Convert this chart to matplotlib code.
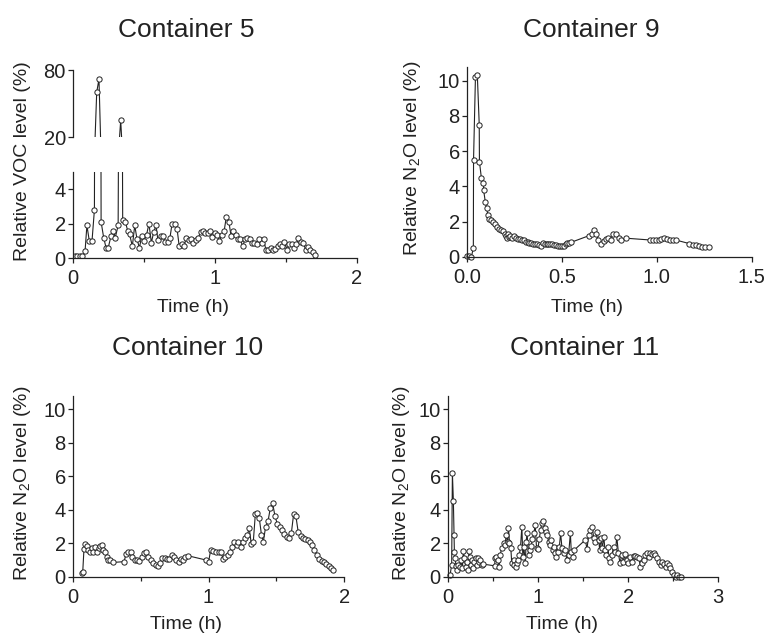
import matplotlib
matplotlib.use("Agg")
import matplotlib.pyplot as plt
from matplotlib.ticker import FixedLocator

plt.rcParams['font.family'] = ['Liberation Sans', 'DejaVu Sans']
plt.rcParams['mathtext.default'] = 'regular'

# ---------------- data ----------------
titles = ["Container 5", "Container 9", "Container 10", "Container 11"]
ylabel_voc = "Relative VOC level (%)"
ylabel_n2o = "Relative N$_2$O level (%)"
xlabel = "Time (h)"

c5_time = [0.016, 0.033, 0.05, 0.068, 0.087, 0.10, 0.117, 0.136, 0.153, 0.169,
           0.185, 0.20, 0.218, 0.235, 0.25, 0.27, 0.286, 0.30, 0.32, 0.338,
           0.352, 0.371, 0.387, 0.40, 0.42, 0.437, 0.453, 0.47, 0.486, 0.50,
           0.52, 0.537, 0.554, 0.57, 0.587, 0.60, 0.62, 0.636, 0.65, 0.67,
           0.685, 0.70, 0.718, 0.735, 0.75, 0.768, 0.784, 0.80, 0.82, 0.836,
           0.85, 0.87, 0.885, 0.90, 0.918, 0.934, 0.95, 0.967, 0.98, 1.0,
           1.016, 1.033, 1.05, 1.066, 1.082, 1.10, 1.115, 1.13, 1.148, 1.164,
           1.18, 1.197, 1.214, 1.23, 1.246, 1.263, 1.28, 1.296, 1.31, 1.33,
           1.345, 1.36, 1.378, 1.394, 1.41, 1.427, 1.444, 1.46, 1.476, 1.49,
           1.51, 1.526, 1.542, 1.56, 1.575, 1.59, 1.608, 1.624, 1.64, 1.657,
           1.674, 1.69, 1.706]
c5_value = [0.15, 0.15, 0.15, 0.15, 0.4, 1.9, 1.0, 1.0, 2.8, 60,
            72, 2.1, 1.2, 0.6, 0.6, 1.3, 1.6, 1.2, 1.9, 35,
            2.2, 2.1, 1.6, 1.4, 0.7, 1.9, 1.1, 0.6, 1.3, 1.0,
            1.35, 2.0, 0.9, 1.5, 1.9, 1.05, 1.3, 1.3, 0.95, 0.95,
            1.2, 2.0, 2.0, 1.7, 0.7, 0.8, 0.7, 1.2, 1.05, 1.1,
            0.9, 1.05, 1.2, 1.5, 1.6, 1.45, 1.45, 1.55, 1.25, 1.45,
            1.35, 1.0, 1.35, 1.55, 2.4, 2.1, 1.3, 1.6, 1.35, 1.1,
            1.1, 0.7, 1.1, 1.2, 1.1, 0.9, 0.9, 0.8, 1.1, 0.9,
            1.1, 0.5, 0.5, 0.6, 0.5, 0.55, 0.7, 0.8, 0.7, 0.95,
            0.5, 0.8, 0.8, 0.6, 0.8, 1.15, 0.95, 0.9, 0.5, 0.65,
            0.5, 0.35, 0.2]

c9_time = [0.0035, 0.014, 0.025, 0.035, 0.036, 0.046, 0.056, 0.066, 0.067, 0.077,
           0.088, 0.089, 0.098, 0.105, 0.112, 0.118, 0.128, 0.139, 0.149, 0.16,
           0.17, 0.18, 0.19, 0.20, 0.205, 0.21, 0.215, 0.22, 0.23, 0.24,
           0.25, 0.26, 0.27, 0.28, 0.29, 0.30, 0.31, 0.32, 0.33, 0.34,
           0.35, 0.36, 0.37, 0.38, 0.39, 0.40, 0.41, 0.42, 0.43, 0.44,
           0.45, 0.46, 0.47, 0.48, 0.49, 0.50, 0.51, 0.52, 0.53, 0.54,
           0.55, 0.645, 0.66, 0.67, 0.68, 0.693, 0.705, 0.72, 0.733, 0.745,
           0.758, 0.772, 0.786, 0.80, 0.814, 0.84, 0.965, 0.98, 0.995, 1.01,
           1.025, 1.04, 1.055, 1.07, 1.085, 1.10, 1.17, 1.19, 1.205, 1.22,
           1.24, 1.255, 1.275]
c9_value = [0.05, 0.05, 0.0, 0.5, 5.5, 10.2, 10.3, 7.5, 5.4, 4.5,
            4.2, 3.8, 3.1, 2.75, 2.35, 2.15, 2.1, 1.95, 1.85, 1.7,
            1.6, 1.5, 1.45, 1.3, 1.15, 1.05, 1.3, 1.1, 1.15, 1.05,
            1.15, 1.05, 1.0, 1.0, 0.95, 0.95, 0.85, 0.85, 0.8, 0.8,
            0.75, 0.7, 0.7, 0.65, 0.62, 0.8, 0.75, 0.7, 0.7, 0.7,
            0.7, 0.68, 0.65, 0.6, 0.58, 0.6, 0.62, 0.7, 0.8, 0.8,
            0.82, 1.2, 1.3, 1.5, 1.3, 0.95, 0.75, 0.9, 1.0, 1.05,
            0.95, 1.3, 1.3, 1.05, 0.95, 1.05, 0.95, 0.95, 0.95, 0.95,
            1.0, 1.05, 1.0, 0.95, 0.95, 0.95, 0.75, 0.65, 0.65, 0.6,
            0.55, 0.55, 0.55]

c10_time = [0.066, 0.074, 0.083, 0.093, 0.103, 0.115, 0.128, 0.14, 0.152, 0.164,
            0.177, 0.19, 0.2, 0.213, 0.226, 0.238, 0.25, 0.263, 0.275, 0.294,
            0.378, 0.393, 0.41, 0.427, 0.44, 0.46, 0.476, 0.49, 0.508, 0.525,
            0.54, 0.557, 0.574, 0.59, 0.61, 0.626, 0.643, 0.66, 0.677, 0.694,
            0.71, 0.729, 0.746, 0.763, 0.78, 0.8, 0.815, 0.83, 0.85, 0.98,
            1.0, 1.016, 1.036, 1.055, 1.075, 1.09, 1.11, 1.124, 1.14, 1.158,
            1.175, 1.19, 1.207, 1.22, 1.237, 1.254, 1.27, 1.286, 1.3, 1.315,
            1.33, 1.345, 1.36, 1.374, 1.39, 1.404, 1.42, 1.438, 1.455, 1.472,
            1.49, 1.507, 1.524, 1.54, 1.558, 1.575, 1.59, 1.61, 1.627, 1.644,
            1.66, 1.68, 1.696, 1.713, 1.73, 1.747, 1.764, 1.78, 1.8, 1.816,
            1.833, 1.85, 1.867, 1.885, 1.9, 1.914]
c10_value = [0.2, 0.3, 1.65, 1.95, 1.85, 1.6, 1.45, 1.7, 1.5, 1.8,
             1.5, 1.7, 1.85, 1.9, 1.6, 1.45, 1.2, 1.0, 1.0, 0.85,
             0.9, 1.35, 1.45, 1.5, 1.2, 1.0, 1.0, 0.95, 1.2, 1.4,
             1.45, 1.15, 1.0, 0.8, 0.7, 0.65, 0.8, 1.1, 1.1, 1.05,
             1.05, 1.3, 1.2, 1.0, 0.9, 1.05, 1.0, 1.15, 1.25, 1.0,
             0.85, 1.6, 1.55, 1.5, 1.5, 1.45, 1.05, 1.2, 1.3, 1.5,
             1.75, 2.05, 1.9, 2.05, 1.75, 2.05, 2.3, 2.5, 2.9, 1.95,
             2.1, 3.75, 3.8, 3.5, 2.5, 2.1, 2.95, 3.3, 4.1, 4.4,
             3.6, 3.15, 3.0, 2.8, 2.55, 2.35, 2.3, 2.6, 3.75, 3.6,
             2.7, 2.45, 2.3, 2.25, 2.2, 2.05, 1.9, 1.6, 1.3, 1.05,
             0.95, 0.85, 0.75, 0.65, 0.5, 0.4]

c11_time = [0.026, 0.044, 0.052, 0.063, 0.07, 0.074, 0.081, 0.093, 0.107, 0.118,
            0.137, 0.148, 0.163, 0.174, 0.185, 0.2, 0.21, 0.222, 0.237, 0.248,
            0.26, 0.274, 0.285, 0.296, 0.31, 0.322, 0.333, 0.348, 0.36, 0.378,
            0.396, 0.52, 0.526, 0.537, 0.556, 0.57, 0.58, 0.6, 0.62, 0.637,
            0.648, 0.663, 0.674, 0.685, 0.7, 0.71, 0.73, 0.74, 0.756, 0.767,
            0.778, 0.793, 0.807, 0.822, 0.833, 0.844, 0.86, 0.87, 0.88, 0.896,
            0.91, 0.926, 0.94, 0.956, 0.97, 0.985, 1.0, 1.015, 1.03, 1.044,
            1.06, 1.074, 1.09, 1.104, 1.118, 1.13, 1.148, 1.163, 1.178, 1.19,
            1.2, 1.22, 1.237, 1.252, 1.267, 1.285, 1.3, 1.322, 1.34, 1.36,
            1.37, 1.39, 1.404, 1.526, 1.544, 1.563, 1.58, 1.6, 1.62, 1.637,
            1.655, 1.674, 1.685, 1.7, 1.715, 1.73, 1.744, 1.76, 1.774, 1.79,
            1.8, 1.82, 1.84, 1.86, 1.874, 1.893, 1.91, 1.93, 1.948, 1.967,
            1.985, 2.0, 2.026, 2.044, 2.063, 2.08, 2.1, 2.12, 2.137, 2.156,
            2.174, 2.19, 2.21, 2.23, 2.248, 2.267, 2.285, 2.3, 2.322, 2.34,
            2.36, 2.378, 2.396, 2.415, 2.43, 2.45, 2.47, 2.49, 2.507, 2.526,
            2.544, 2.56, 2.59]
c11_value = [0.1, 0.7, 6.2, 4.5, 2.5, 1.5, 1.1, 0.65, 0.4, 0.7,
             0.6, 1.0, 0.5, 1.55, 1.1, 0.6, 0.9, 0.4, 1.55, 1.2,
             0.7, 1.0, 0.5, 0.9, 1.1, 0.7, 1.1, 0.9, 1.0, 0.7,
             0.75, 0.65, 1.1, 1.2, 1.0, 0.6, 1.3, 1.7, 2.0, 1.9,
             2.5, 2.1, 2.9, 2.0, 1.7, 0.8, 1.0, 0.7, 0.55, 0.8,
             1.0, 1.3, 1.75, 3.0, 1.2, 1.8, 0.8, 2.1, 2.6, 1.3,
             1.6, 1.85, 2.25, 2.6, 3.1, 1.7, 1.65, 2.25, 2.8, 3.2,
             3.3, 2.9, 2.7, 2.5, 2.1, 1.9, 2.2, 1.6, 1.8, 1.4,
             1.2, 1.5, 1.75, 2.6, 1.7, 1.4, 1.6, 1.0, 1.3, 2.6,
             1.5, 1.2, 1.6, 2.2, 1.65, 2.5, 2.8, 3.0, 2.3, 2.1,
             2.7, 2.2, 1.6, 2.3, 1.7, 2.4, 1.6, 1.3, 1.8, 1.1,
             0.9, 1.3, 1.8, 1.5, 2.4, 1.4, 0.8, 1.3, 0.9, 1.35,
             1.0, 0.8, 1.2, 0.9, 1.25, 1.25, 1.2, 1.1, 0.6, 0.8,
             1.0, 1.3, 1.4, 1.2, 1.4, 1.35, 1.4, 1.3, 1.1, 0.9,
             0.7, 0.9, 0.75, 0.55, 0.8, 0.7, 0.5, 0.3, 0.1, 0.0,
             0.1, 0.0, 0.0]

for a, b in [(c5_time, c5_value), (c9_time, c9_value),
             (c10_time, c10_value), (c11_time, c11_value)]:
    assert len(a) == len(b), (len(a), len(b))

# ---------------- styling ----------------
W, H = 767, 633
INK = '#222222'
fig = plt.figure(figsize=(W / 100, H / 100), dpi=100)


def px_axes(left, top, right, bottom):
    return fig.add_axes([left / W, 1 - bottom / H, (right - left) / W, (bottom - top) / H])


def style(ax, xmajor=None, xminor=None, yticks=None, show_x=True):
    for s in ('top', 'right'):
        ax.spines[s].set_visible(False)
    for s in ('left', 'bottom'):
        ax.spines[s].set_linewidth(0.9)
        ax.spines[s].set_color(INK)
    ax.tick_params(axis='both', which='both', direction='out', color=INK,
                   labelcolor=INK, labelsize=14.5, width=0.9)
    ax.tick_params(axis='both', which='major', length=3.5)
    ax.tick_params(axis='both', which='minor', length=3.0)
    ax.tick_params(axis='y', pad=1.5)
    ax.tick_params(axis='x', pad=4.5)
    if yticks is not None:
        ax.yaxis.set_major_locator(FixedLocator(yticks))
    if show_x:
        ax.xaxis.set_major_locator(FixedLocator(xmajor))
        if xminor:
            ax.xaxis.set_minor_locator(FixedLocator(xminor))
    else:
        ax.spines['bottom'].set_visible(False)
        ax.tick_params(axis='x', which='both', bottom=False, labelbottom=False)
    ax.patch.set_alpha(0)


def draw(ax, t, v, clip=True):
    ax.plot(t, v, '-o', color=INK, lw=0.8, ms=3.8, mfc='white', mec=INK,
            mew=0.7, clip_on=clip)


# Container 5 (broken y axis)
ax5l = px_axes(72.7, 171.7, 356.7, 258.3)
ax5u = px_axes(72.7, 70.0, 356.7, 137.3)
for ax in (ax5l, ax5u):
    draw(ax, c5_time, c5_value, clip=True)
    ax.set_xlim(0, 2)
ax5l.set_ylim(0, 5)
ax5u.set_ylim(20, 80)
style(ax5l, xmajor=[0, 1, 2], xminor=[0.5, 1.5], yticks=[0, 2, 4])
ax5l.set_xticklabels(['0', '1', '2'])
style(ax5u, yticks=[20, 80], show_x=False)

# Container 9
ax9 = px_axes(466.7, 66.7, 751.7, 256.7)
draw(ax9, c9_time, c9_value, clip=False)
ax9.set_xlim(0, 1.5)
ax9.set_ylim(0, 10.8)
style(ax9, xmajor=[0, 0.5, 1.0, 1.5], yticks=[0, 2, 4, 6, 8, 10])
ax9.set_xticklabels(['0.0', '0.5', '1.0', '1.5'])

# Container 10
ax10 = px_axes(72.7, 396.0, 344.3, 576.7)
draw(ax10, c10_time, c10_value, clip=False)
ax10.set_xlim(0, 2)
ax10.set_ylim(0, 10.8)
style(ax10, xmajor=[0, 1, 2], xminor=[0.5, 1.5], yticks=[0, 2, 4, 6, 8, 10])
ax10.set_xticklabels(['0', '1', '2'])

# Container 11
ax11 = px_axes(447.7, 396.0, 718.3, 576.7)
draw(ax11, c11_time, c11_value, clip=False)
ax11.set_xlim(0, 3)
ax11.set_ylim(0, 10.8)
style(ax11, xmajor=[0, 1, 2, 3], xminor=[0.5, 1.5, 2.5], yticks=[0, 2, 4, 6, 8, 10])
ax11.set_xticklabels(['0', '1', '2', '3'])

# Titles and labels (positions in pixels)
def ftext(x, y, s, **kw):
    fig.text(x / W, 1 - y / H, s, color=INK, **kw)

ftext(186, 37, titles[0], fontsize=19, ha='center', va='baseline')
ftext(591, 37, titles[1], fontsize=19, ha='center', va='baseline')
ftext(187.5, 355, titles[2], fontsize=19, ha='center', va='baseline')
ftext(585, 355, titles[3], fontsize=19, ha='center', va='baseline')

ftext(193.5, 312, xlabel, fontsize=14, ha='center', va='baseline')
ftext(587, 312, xlabel, fontsize=14, ha='center', va='baseline')
ftext(186.5, 629, xlabel, fontsize=14, ha='center', va='baseline')
ftext(562, 629, xlabel, fontsize=14, ha='center', va='baseline')

ftext(22.5, 161.5, ylabel_voc, fontsize=14, rotation=90, ha='center', va='center')
ftext(412.5, 158, ylabel_n2o, fontsize=14, rotation=90, ha='center', va='center')
ftext(22.5, 483, ylabel_n2o, fontsize=14, rotation=90, ha='center', va='center')
ftext(401, 483, ylabel_n2o, fontsize=14, rotation=90, ha='center', va='center')

fig.savefig('out.png', dpi=100)
